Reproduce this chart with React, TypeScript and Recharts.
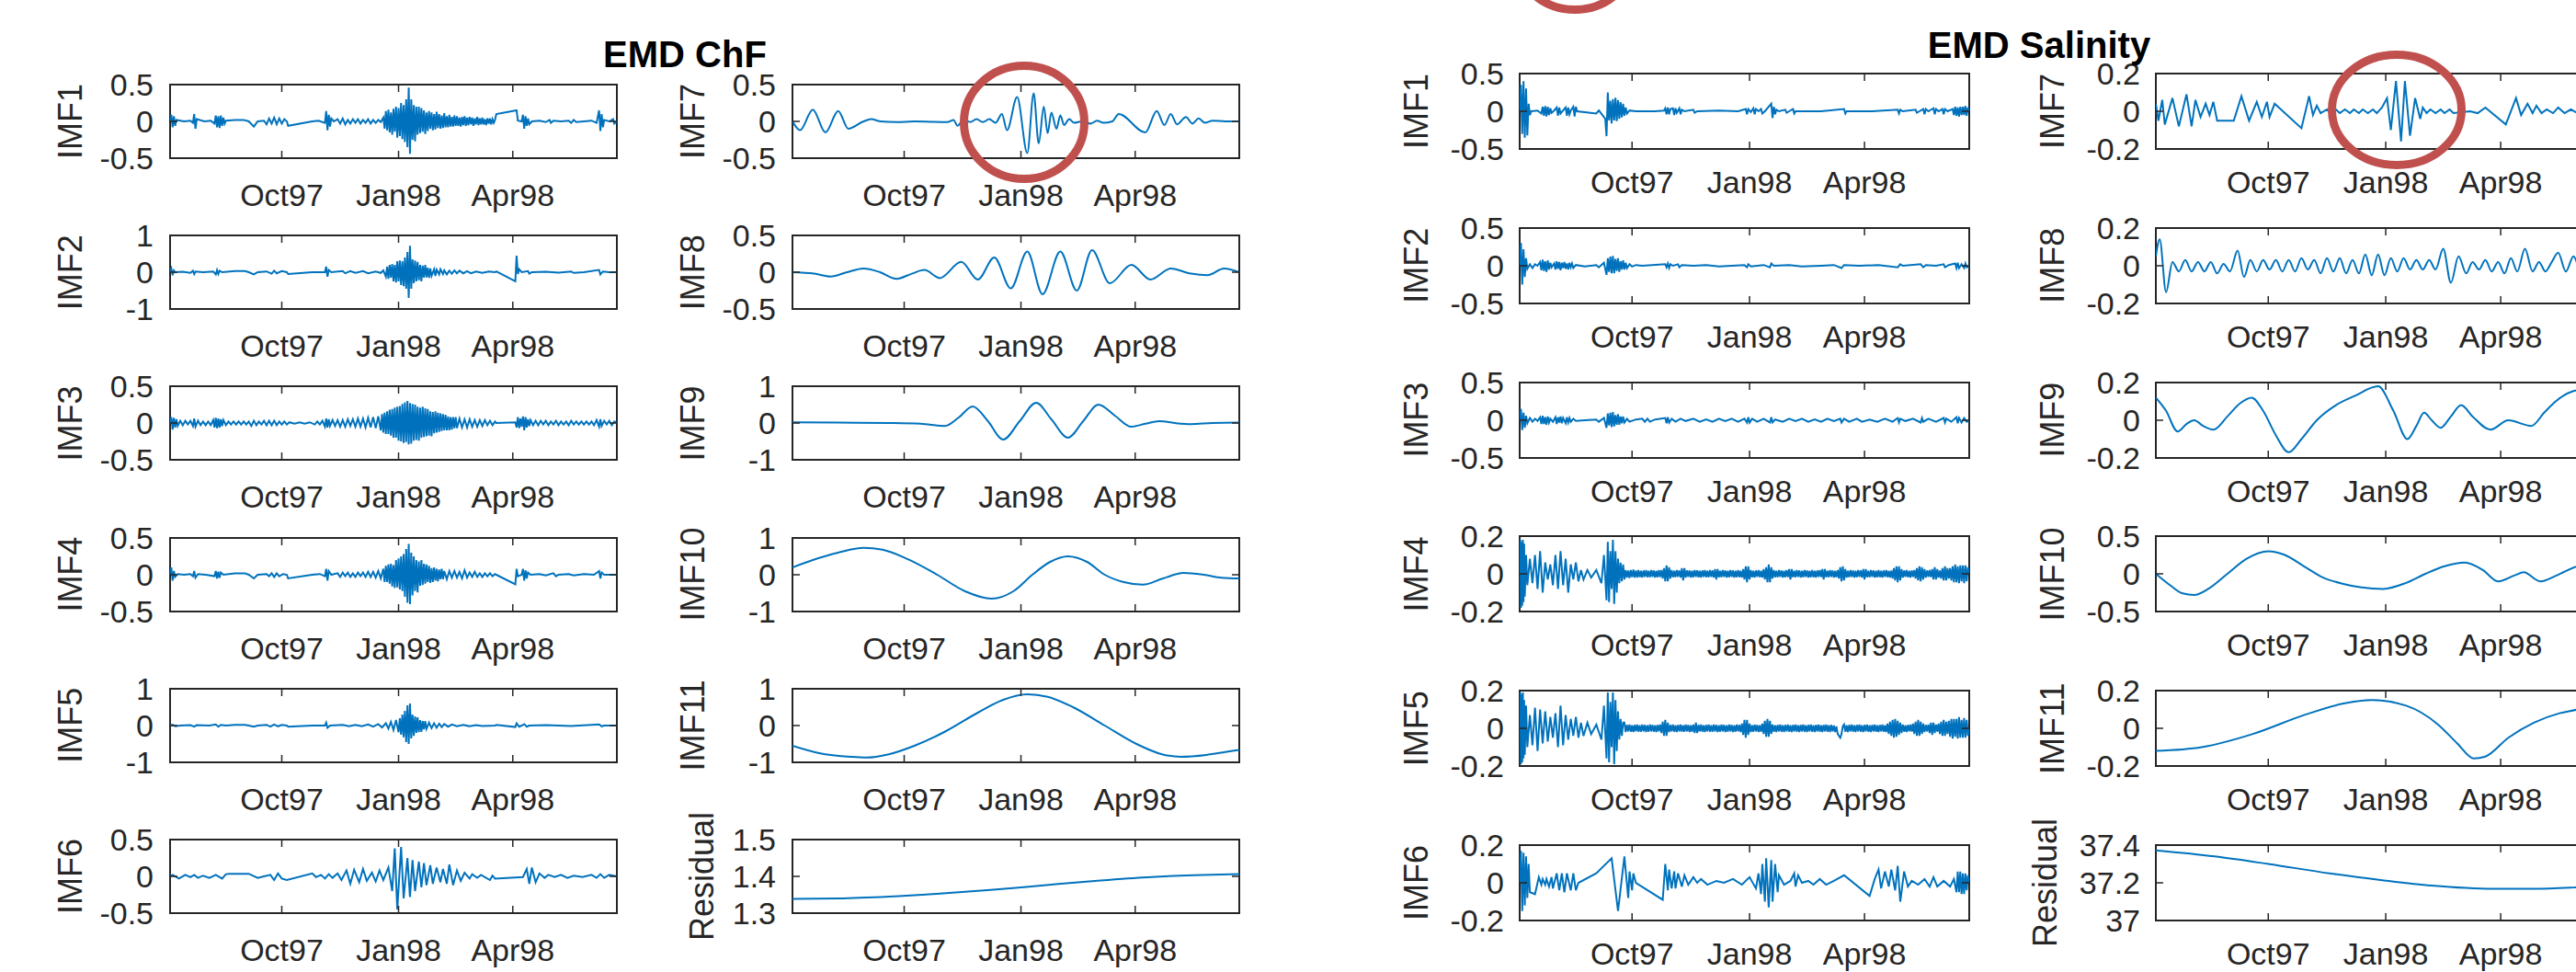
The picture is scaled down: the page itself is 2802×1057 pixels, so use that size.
import React from 'react';
import { LineChart, Line, XAxis, YAxis, ReferenceArea } from 'recharts';

type Pt = [number, number];

// x is days since 1 Jul 1997
const X_DOMAIN: [number, number] = [4, 356];
const TICK_DAYS = [92, 184, 274];
const TICK_LABELS = ['Oct97', 'Jan98', 'Apr98'];

const TICKS_05 = [-0.5, 0, 0.5];
const TICKS_1 = [-1, 0, 1];
const TICKS_02 = [-0.2, 0, 0.2];
const CHF_RES_TICKS = [1.3, 1.4, 1.5];
const SAL_RES_TICKS = [37, 37.2, 37.4];

const CHF_LABELS = ['IMF1', 'IMF2', 'IMF3', 'IMF4', 'IMF5', 'IMF6', 'IMF7', 'IMF8', 'IMF9', 'IMF10', 'IMF11', 'Residual'];
const SAL_LABELS = CHF_LABELS;

// ---------- EMD ChF ----------
const chfImf1: Pt[] = [[4,0],[5,0.09],[6,-0.08],[7,0.07],[8,-0.06],[9,0.02],[15,0],[20,0.01],[22,-0.02],[23,0.1],[24,-0.1],[25,0.03],[31,0],[36,0.01],[39,-0.03],[40,0.08],[41,-0.08],[42,0.07],[43,-0.09],[44,0.08],[45,-0.06],[46,0.05],[47,-0.03],[48,0.01],[55,0.02],[62,0.02],[66,0],[70,-0.07],[73,0],[78,0.01],[80,-0.04],[82,0.04],[84,-0.03],[86,0.05],[88,-0.04],[90,0.04],[92,-0.03],[94,0.03],[96,0],[97,-0.06],[116,0],[121,0.01],[126,-0.02],[127,0.14],[128,-0.12],[129,0.09],[130,-0.07],[131,0.04],[133,0],[136,0.03],[138,-0.03],[140,0.04],[142,-0.04],[144,0.02],[146,-0.03],[148,0.03],[150,-0.02],[152,0.03],[154,-0.03],[156,0.02],[158,-0.02],[160,0.03],[162,-0.03],[164,0.02],[166,-0.02],[168,0.02],[170,-0.01],[172,0.05],[173,-0.1],[174,0.14],[175,-0.12],[176,0.16],[177,-0.15],[178,0.12],[179,-0.18],[180,0.17],[181,-0.14],[182,0.2],[183,-0.22],[184,0.18],[185,-0.2],[186,0.25],[187,-0.24],[188,0.22],[189,-0.28],[190,0.3],[191,-0.35],[192,0.46],[193,-0.44],[194,0.3],[195,-0.25],[196,0.22],[197,-0.27],[198,0.2],[199,-0.18],[200,0.2],[201,-0.16],[202,0.18],[203,-0.14],[204,0.15],[205,-0.17],[206,0.12],[207,-0.13],[208,0.14],[209,-0.1],[210,0.12],[211,-0.12],[212,0.1],[213,-0.11],[214,0.13],[215,-0.09],[216,0.1],[217,-0.1],[218,0.08],[219,-0.09],[220,0.11],[221,-0.08],[222,0.07],[223,-0.08],[224,0.09],[225,-0.07],[226,0.06],[227,-0.07],[228,0.08],[229,-0.06],[230,0.07],[231,-0.06],[232,0.05],[233,-0.07],[234,0.06],[235,-0.05],[236,0.07],[237,-0.06],[238,0.05],[239,-0.05],[240,0.06],[241,-0.04],[242,0.05],[243,-0.06],[244,0.04],[245,-0.04],[246,0.06],[247,-0.05],[248,0.04],[249,-0.04],[250,0.05],[251,-0.04],[252,0.03],[253,-0.05],[254,0.04],[255,-0.03],[256,0.04],[257,-0.04],[258,0.03],[259,-0.02],[260,0.02],[261,0.1],[277,0.15],[278,0.01],[281,0],[282,0.09],[283,-0.1],[284,0.07],[285,-0.06],[286,0.04],[287,-0.04],[289,0],[295,0.01],[300,-0.01],[303,0.02],[304,-0.02],[306,0.01],[312,0],[318,0.01],[320,-0.02],[322,0.02],[324,-0.01],[330,0],[336,0.01],[340,-0.02],[342,0.15],[343,-0.13],[344,0.1],[345,-0.08],[346,0.02],[350,0],[353,0.03],[354,-0.03],[356,0]];

const chfImf2: Pt[] = [[4,0],[5,0.1],[6,-0.08],[7,0.05],[8,0],[14,0.01],[20,-0.02],[22,0.04],[23,-0.05],[24,0.02],[30,0],[38,0.02],[40,-0.06],[41,0.06],[42,-0.05],[43,0.04],[45,0],[55,0.03],[63,0.03],[66,0],[70,-0.06],[73,0],[80,0.02],[84,-0.04],[86,0.04],[88,-0.03],[92,0.03],[96,0],[97,-0.05],[116,0],[126,0],[127,0.15],[128,-0.12],[129,0.06],[131,0],[140,0.03],[142,-0.03],[146,0.03],[150,-0.02],[156,0.03],[160,-0.03],[166,0.02],[170,-0.02],[172,0.05],[174,-0.12],[175,0.15],[176,-0.18],[177,0.2],[178,-0.15],[179,0.22],[180,-0.25],[181,0.2],[182,-0.28],[183,0.3],[184,-0.25],[185,0.32],[186,-0.35],[187,0.3],[188,-0.38],[189,0.4],[190,-0.45],[191,0.55],[192,-0.7],[193,0.72],[194,-0.45],[195,0.35],[196,-0.3],[197,0.32],[198,-0.25],[199,0.28],[200,-0.22],[201,0.2],[202,-0.25],[203,0.18],[204,-0.15],[205,0.2],[206,-0.14],[207,0.12],[208,-0.15],[209,0.1],[210,-0.1],[212,0.08],[213,-0.1],[214,0.07],[216,-0.06],[217,0.08],[219,-0.05],[220,0.05],[222,-0.06],[224,0.04],[226,-0.04],[228,0.05],[230,-0.03],[232,0.04],[235,-0.03],[238,0.03],[241,-0.03],[245,0.02],[250,-0.02],[255,0.02],[260,0],[261,0.02],[276,-0.25],[277,0.45],[278,-0.05],[279,0.08],[281,0],[286,0.03],[287,-0.04],[289,0],[300,0.01],[310,-0.01],[320,0.02],[322,-0.02],[330,0],[342,0.06],[343,-0.06],[345,0.02],[350,0],[356,0]];

const chfImf3: Pt[] = [[4,0],[5,0.08],[6,-0.09],[7,0.07],[8,-0.06],[9,0.05],[10,-0.04],[12,0.03],[14,-0.03],[16,0.03],[18,-0.02],[20,0.03],[22,-0.04],[23,0.06],[24,-0.05],[26,0.03],[28,-0.03],[30,0.02],[32,-0.03],[34,0.02],[36,-0.03],[38,0.04],[39,-0.06],[40,0.07],[41,-0.07],[42,0.06],[43,-0.06],[44,0.05],[45,-0.04],[46,0.04],[48,-0.03],[50,0.02],[52,-0.02],[54,0.02],[56,-0.02],[58,0.02],[60,-0.02],[62,0.02],[64,-0.02],[66,0.02],[68,-0.04],[70,0.03],[72,-0.03],[74,0.02],[76,-0.02],[78,0.03],[80,-0.03],[82,0.03],[84,-0.03],[86,0.03],[88,-0.03],[90,0.02],[92,-0.02],[94,0.02],[96,-0.02],[98,0.01],[102,-0.01],[106,0.01],[110,-0.01],[114,0.01],[118,-0.02],[120,0.02],[122,-0.02],[124,0.03],[126,-0.05],[127,0.06],[128,-0.06],[129,0.05],[130,-0.04],[132,0.04],[134,-0.04],[136,0.04],[138,-0.05],[140,0.04],[142,-0.05],[144,0.05],[146,-0.04],[148,0.05],[150,-0.05],[152,0.06],[154,-0.05],[156,0.06],[158,-0.06],[160,0.07],[162,-0.06],[164,0.08],[166,-0.07],[168,0.09],[170,-0.1],[171,0.12],[172,-0.13],[173,0.14],[174,-0.15],[175,0.16],[176,-0.15],[177,0.18],[178,-0.17],[179,0.19],[180,-0.2],[181,0.21],[182,-0.2],[183,0.22],[184,-0.24],[185,0.23],[186,-0.25],[187,0.26],[188,-0.27],[189,0.28],[190,-0.26],[191,0.3],[192,-0.29],[193,0.27],[194,-0.28],[195,0.26],[196,-0.24],[197,0.25],[198,-0.23],[199,0.22],[200,-0.24],[201,0.21],[202,-0.2],[203,0.22],[204,-0.19],[205,0.2],[206,-0.18],[207,0.19],[208,-0.17],[209,0.16],[210,-0.18],[211,0.15],[212,-0.14],[213,0.16],[214,-0.13],[215,0.14],[216,-0.12],[217,0.13],[218,-0.11],[219,0.12],[220,-0.1],[221,0.11],[222,-0.1],[223,0.09],[224,-0.1],[225,0.08],[226,-0.09],[227,0.08],[228,-0.07],[229,0.08],[230,-0.07],[232,0.06],[234,-0.06],[236,0.05],[238,-0.06],[240,0.05],[242,-0.05],[244,0.04],[246,-0.05],[248,0.04],[250,-0.04],[252,0.04],[254,-0.03],[256,0.03],[258,-0.03],[260,0.02],[261,0],[276,0.01],[277,-0.06],[278,0.08],[279,-0.07],[280,0.06],[281,-0.05],[282,0.09],[283,-0.1],[284,0.08],[285,-0.06],[286,0.05],[287,-0.04],[288,0.04],[290,-0.03],[292,0.03],[294,-0.03],[296,0.03],[298,-0.02],[300,0.03],[302,-0.03],[304,0.02],[306,-0.02],[308,0.03],[310,-0.03],[312,0.02],[314,-0.02],[316,0.02],[318,-0.03],[320,0.03],[322,-0.02],[324,0.02],[326,-0.02],[328,0.02],[330,-0.02],[332,0.02],[334,-0.02],[336,0.02],[338,-0.03],[340,0.04],[342,-0.05],[343,0.05],[344,-0.04],[346,0.03],[348,-0.02],[350,0.03],[352,-0.03],[354,0.02],[356,0]];

const chfImf4: Pt[] = [[4,0],[5,0.1],[6,-0.08],[7,0.05],[8,-0.03],[10,0.01],[15,0],[20,0.01],[22,-0.02],[23,0.05],[24,-0.04],[26,0.01],[32,0],[39,-0.02],[40,0.05],[41,-0.05],[42,0.04],[43,-0.04],[44,0.03],[46,0],[55,0.02],[63,0.02],[66,0],[70,-0.05],[73,0],[80,0.01],[82,-0.02],[84,0.02],[86,-0.03],[88,0.02],[90,-0.02],[93,0.01],[96,0],[97,-0.05],[116,0],[122,0.01],[126,-0.02],[127,0.08],[128,-0.08],[129,0.05],[131,0],[136,0.02],[138,-0.03],[140,0.03],[142,-0.02],[144,0.03],[146,-0.03],[148,0.02],[150,-0.03],[152,0.03],[154,-0.02],[156,0.03],[158,-0.03],[160,0.04],[162,-0.03],[164,0.04],[166,-0.04],[168,0.05],[170,-0.05],[172,0.08],[173,-0.1],[174,0.12],[175,-0.1],[176,0.14],[177,-0.12],[178,0.15],[179,-0.16],[180,0.13],[181,-0.18],[182,0.2],[183,-0.17],[184,0.22],[185,-0.2],[186,0.25],[187,-0.22],[188,0.28],[189,-0.3],[190,0.35],[191,-0.38],[192,0.42],[193,-0.4],[194,0.3],[195,-0.28],[196,0.25],[197,-0.22],[198,0.2],[199,-0.24],[200,0.18],[201,-0.15],[202,0.2],[203,-0.14],[204,0.15],[205,-0.12],[206,0.14],[207,-0.1],[208,0.12],[209,-0.11],[210,0.09],[211,-0.1],[212,0.1],[213,-0.08],[214,0.08],[215,-0.09],[216,0.07],[217,-0.06],[218,0.08],[219,-0.06],[220,0.05],[222,-0.06],[224,0.05],[226,-0.04],[228,0.05],[230,-0.04],[232,0.04],[234,-0.05],[236,0.06],[238,-0.04],[240,0.03],[242,-0.03],[244,0.04],[246,-0.03],[248,0.02],[250,-0.03],[252,0.02],[254,-0.02],[256,0.02],[258,-0.02],[260,0.01],[261,0],[276,-0.13],[277,0.08],[278,-0.02],[281,0],[282,0.08],[283,-0.08],[284,0.06],[285,-0.05],[286,0.03],[288,0],[295,0.01],[300,-0.01],[306,0.02],[308,-0.02],[310,0],[318,0.01],[322,-0.01],[330,0.01],[338,0],[342,0.05],[343,-0.05],[344,0.03],[346,0],[356,0]];

const chfImf5: Pt[] = [[4,0],[6,0.02],[8,-0.02],[12,0],[20,0.01],[23,-0.03],[25,0.01],[35,0],[40,0.03],[42,-0.03],[44,0.02],[48,0],[55,0.02],[63,0.02],[66,0],[70,-0.03],[73,0],[80,0.02],[83,-0.03],[86,0.03],[89,-0.02],[92,0.02],[96,0],[97,-0.03],[116,0],[126,0],[127,0.08],[128,-0.06],[130,0],[140,0.02],[145,-0.02],[150,0.02],[155,-0.02],[160,0.03],[164,-0.03],[168,0.04],[171,-0.05],[174,0.06],[176,-0.08],[178,0.1],[180,-0.12],[182,0.15],[184,-0.18],[185,0.2],[186,-0.25],[187,0.3],[188,-0.32],[189,0.4],[190,-0.45],[191,0.55],[192,-0.5],[193,0.6],[194,-0.35],[195,0.3],[196,-0.28],[197,0.25],[198,-0.2],[199,0.22],[200,-0.18],[201,0.15],[202,-0.17],[203,0.12],[204,-0.1],[205,0.12],[206,-0.09],[208,0.08],[210,-0.07],[212,0.06],[214,-0.06],[216,0.05],[218,-0.04],[220,0.04],[223,-0.03],[226,0.03],[230,-0.02],[235,0.02],[240,-0.02],[245,0.01],[250,-0.01],[260,0],[261,0.02],[276,-0.04],[277,0.06],[279,-0.03],[281,0],[283,0.04],[285,-0.03],[287,0],[300,0.01],[320,-0.01],[342,0.03],[344,-0.02],[346,0],[356,0]];

const chfImf6: Pt[] = [[4,0],[6,0.02],[11,-0.03],[16,0.02],[20,-0.01],[23,0.02],[26,-0.02],[30,0.01],[35,-0.02],[40,0.02],[45,-0.03],[48,0.03],[51,0.035],[66,0.035],[69,0.01],[73,-0.02],[78,0],[83,0.02],[86,-0.05],[89,0.04],[92,-0.03],[96,-0.05],[116,0.04],[119,-0.01],[123,0.02],[126,-0.03],[129,0.03],[132,-0.02],[136,0.04],[139,-0.05],[143,0.08],[146,-0.1],[149,0.09],[153,-0.08],[156,0.1],[159,-0.06],[163,0.05],[166,-0.07],[169,0.08],[172,-0.05],[176,0.12],[179,-0.2],[181,0.38],[183,-0.45],[186,0.4],[188,-0.3],[191,0.25],[193,-0.28],[195,0.22],[197,-0.2],[200,0.2],[202,-0.15],[204,0.18],[206,-0.12],[209,0.15],[211,-0.1],[214,0.12],[217,-0.08],[219,0.1],[222,-0.1],[224,0.16],[227,-0.12],[230,0.08],[233,-0.06],[236,0.05],[240,-0.03],[242,0.03],[246,-0.02],[249,0.02],[252,-0.01],[256,-0.05],[258,0.01],[260,-0.03],[282,-0.01],[285,0.1],[287,-0.1],[289,0.12],[292,-0.08],[295,0.04],[299,-0.02],[302,0.02],[307,-0.01],[312,0.02],[317,-0.02],[322,0.01],[329,-0.01],[336,0.02],[340,-0.02],[343,0.03],[346,-0.02],[350,0.02],[356,0]];

const chfImf7: Pt[] = [[4,0],[10,-0.12],[20,0.16],[30,-0.15],[40,0.14],[48,-0.1],[60,0],[66,0.03],[73,0],[86,-0.01],[100,0],[126,-0.01],[131,0.02],[134,-0.06],[139,0.03],[144,-0.01],[149,0.03],[154,-0.01],[159,0.03],[164,-0.02],[169,0.1],[173,-0.12],[181,0.33],[189,-0.43],[194,0.38],[198,-0.3],[202,0.2],[205,-0.16],[208,0.12],[212,-0.1],[215,0.08],[218,-0.05],[222,0.03],[226,-0.02],[232,0],[239,-0.03],[244,0.01],[249,-0.02],[256,0],[261,0.1],[282,-0.15],[291,0.14],[297,-0.05],[302,0.1],[307,-0.04],[314,0.06],[319,-0.03],[324,0.04],[329,-0.02],[335,0.01],[345,0],[356,0]];

const chfImf8: Pt[] = [[4,0],[21,-0.02],[34,-0.06],[47,0],[60,0.05],[73,0],[86,-0.09],[98,-0.02],[108,0.03],[120,-0.08],[137,0.14],[150,-0.1],[163,0.2],[176,-0.22],[189,0.28],[201,-0.3],[215,0.28],[228,-0.25],[240,0.3],[254,-0.15],[271,0.1],[286,-0.1],[302,0.05],[318,-0.02],[331,-0.04],[344,0.05],[356,0]];

const chfImf9: Pt[] = [[4,0.02],[40,0.01],[80,0],[105,-0.02],[124,-0.08],[135,0.15],[146,0.45],[158,0.05],[170,-0.45],[183,0.05],[196,0.55],[208,0.1],[221,-0.4],[233,0.05],[245,0.5],[258,0.2],[271,-0.1],[282,-0.02],[293,0.05],[305,0],[318,-0.03],[335,0],[356,0.01]];

const chfImf10: Pt[] = [[4,0.2],[20,0.4],[40,0.6],[60,0.73],[75,0.68],[95,0.42],[118,0],[140,-0.45],[161,-0.65],[178,-0.45],[193,0],[207,0.35],[221,0.5],[236,0.35],[250,0],[265,-0.2],[280,-0.27],[296,-0.1],[312,0.05],[328,0],[342,-0.08],[356,-0.1]];

const chfImf11: Pt[] = [[4,-0.55],[25,-0.75],[50,-0.85],[62,-0.87],[80,-0.78],[100,-0.55],[125,-0.15],[150,0.35],[170,0.7],[189,0.85],[205,0.78],[225,0.5],[250,0],[275,-0.5],[295,-0.78],[310,-0.85],[330,-0.8],[345,-0.72],[356,-0.66]];

const chfResidual: Pt[] = [[4,1.339],[40,1.34],[80,1.345],[120,1.353],[160,1.363],[200,1.375],[240,1.387],[280,1.397],[320,1.403],[356,1.406]];

// ---------- EMD Salinity ----------
const salImf1: Pt[] = [[4,0],[5,0.35],[6,-0.3],[7,0.4],[8,-0.35],[9,0.3],[10,-0.32],[11,0.1],[12,-0.05],[13,0],[18,0.01],[21,-0.03],[22,0.06],[23,-0.06],[24,0.07],[25,-0.07],[26,0.06],[27,-0.05],[28,0.04],[29,-0.02],[31,0.01],[33,0.05],[34,-0.06],[35,0.05],[36,-0.03],[38,0.01],[40,0.05],[41,-0.06],[42,0.05],[43,-0.04],[44,0.01],[46,0.06],[47,-0.07],[48,0.06],[49,0],[64,-0.03],[66,0.01],[71,-0.1],[72,-0.33],[73,0.25],[74,-0.12],[75,0.14],[76,-0.16],[77,0.16],[78,-0.12],[79,0.18],[80,-0.13],[81,0.15],[82,-0.1],[83,0.12],[84,-0.08],[85,0.1],[86,-0.06],[87,0.05],[88,-0.03],[90,0.01],[95,0],[110,0],[117,0.01],[118,0.04],[119,-0.04],[120,0.05],[121,-0.04],[122,0.03],[124,0.04],[125,-0.05],[126,0.04],[127,-0.02],[129,0.04],[130,-0.04],[131,0.02],[133,0],[140,0.02],[141,-0.02],[143,0],[160,0.01],[175,0],[181,0.03],[182,-0.04],[183,0.03],[185,-0.01],[187,0.04],[188,-0.04],[189,0.03],[191,0],[193,0.03],[194,-0.03],[196,0],[201,0.1],[202,-0.09],[203,0.06],[204,-0.04],[205,0.02],[207,0],[212,0.02],[213,-0.02],[215,0],[218,0.03],[219,-0.03],[220,0],[240,0],[258,0.03],[259,-0.03],[260,0],[280,0],[300,0.02],[301,-0.03],[302,0.02],[304,0],[314,0.02],[315,-0.02],[317,0],[320,0.03],[321,-0.04],[322,0.03],[324,0],[328,0.04],[329,-0.04],[330,0.03],[332,0],[335,0.03],[336,-0.04],[337,0.03],[339,0],[343,0.03],[344,-0.05],[345,0.06],[346,-0.06],[347,0.05],[348,-0.07],[349,0.06],[350,-0.05],[351,0.06],[352,-0.05],[353,0.07],[354,-0.06],[355,0.05],[356,0]];

const salImf2: Pt[] = [[4,0],[5,0.3],[6,-0.25],[7,0.22],[8,-0.15],[9,0.1],[10,-0.04],[12,0.02],[14,-0.03],[16,0.02],[18,0],[20,0.05],[21,-0.06],[22,0.08],[23,-0.07],[24,0.06],[25,-0.08],[26,0.07],[27,-0.05],[28,0.04],[29,-0.02],[31,0.03],[32,-0.05],[33,0.06],[34,-0.04],[35,0.05],[36,-0.06],[37,0.04],[38,-0.03],[39,0.05],[40,-0.04],[41,0.03],[42,-0.05],[43,0.04],[44,-0.02],[45,0.03],[46,-0.03],[48,0.01],[55,-0.01],[64,0.01],[66,-0.02],[70,0.04],[72,-0.12],[73,0.1],[74,-0.08],[75,0.12],[76,-0.1],[77,0.13],[78,-0.1],[79,0.09],[80,-0.07],[81,0.1],[82,-0.08],[83,0.06],[84,-0.05],[85,0.07],[86,-0.05],[87,0.04],[88,-0.03],[90,0.02],[92,-0.01],[95,0.01],[100,0],[118,0.02],[119,-0.02],[120,0.03],[121,-0.03],[122,0.02],[124,0],[128,0.02],[129,-0.02],[131,0.01],[140,0],[150,0.01],[160,-0.01],[170,0],[180,0.01],[182,-0.02],[183,0.02],[185,-0.01],[195,0.01],[200,-0.02],[201,0.03],[203,0],[215,0.01],[225,-0.01],[240,0],[250,0.01],[256,-0.03],[258,0.01],[270,0],[285,0.01],[300,-0.02],[302,0.02],[304,0],[318,0.02],[320,-0.02],[322,0.01],[330,0],[336,0.02],[337,-0.02],[340,0.01],[345,0.03],[346,-0.03],[347,0.04],[348,-0.03],[350,0.02],[352,-0.03],[353,0.03],[354,-0.02],[356,0]];

const salImf3: Pt[] = [[4,0],[5,0.15],[6,-0.13],[7,0.1],[8,-0.1],[9,0.06],[10,-0.04],[12,0.03],[14,-0.02],[16,0.02],[18,-0.01],[20,0.04],[21,-0.05],[22,0.06],[23,-0.05],[24,0.04],[25,-0.06],[26,0.05],[27,-0.03],[28,0.02],[30,-0.02],[32,0.04],[33,-0.05],[34,0.04],[35,-0.03],[36,0.05],[37,-0.04],[38,0.03],[40,-0.04],[41,0.04],[42,-0.03],[43,0.03],[44,-0.02],[46,0.02],[48,-0.01],[55,0],[64,0.01],[66,-0.02],[70,0.03],[72,-0.1],[73,0.09],[74,-0.07],[75,0.1],[76,-0.09],[77,0.11],[78,-0.08],[79,0.07],[80,-0.06],[81,0.08],[82,-0.06],[83,0.05],[84,-0.04],[85,0.05],[86,-0.03],[88,0.02],[90,-0.02],[95,0.01],[100,0.02],[102,-0.02],[104,0.02],[106,-0.02],[110,0.01],[118,0.03],[119,-0.04],[120,0.04],[121,-0.03],[123,0.02],[126,-0.02],[130,0.02],[134,-0.01],[140,0.02],[145,-0.02],[150,0.01],[155,-0.02],[160,0.02],[165,-0.01],[170,0.02],[175,-0.02],[180,0.02],[182,-0.03],[183,0.04],[184,-0.03],[186,0.02],[190,-0.02],[195,0.02],[200,-0.03],[201,0.04],[202,-0.03],[204,0.01],[210,-0.02],[215,0.02],[220,-0.01],[225,0.02],[230,-0.02],[235,0.01],[240,-0.02],[245,0.02],[250,-0.01],[255,0.02],[256,-0.03],[258,0.02],[262,-0.02],[268,0.02],[272,-0.02],[278,0.01],[284,-0.02],[290,0.02],[296,-0.02],[300,0.03],[301,-0.03],[302,0.02],[306,-0.01],[312,0.02],[318,-0.03],[319,0.03],[320,-0.02],[324,0.02],[330,-0.02],[336,0.03],[337,-0.03],[338,0.02],[342,-0.02],[346,0.04],[347,-0.04],[348,0.03],[350,-0.03],[352,0.03],[354,-0.02],[356,0]];

const salImf4: Pt[] = [[4,0],[4.5,0.18],[5,-0.18],[5.5,0.17],[6,-0.17],[6.5,0.18],[7,-0.15],[7.5,0.16],[8,-0.12],[9,0.1],[10,-0.06],[12,0.08],[14,-0.05],[16,0.1],[18,-0.08],[20,0.12],[22,-0.1],[24,0.06],[26,-0.03],[28,0.05],[30,-0.06],[32,0.1],[34,-0.08],[36,0.12],[38,-0.06],[40,0.08],[42,-0.1],[44,0.05],[46,-0.03],[48,0.06],[50,-0.04],[52,0.02],[54,-0.03],[57,0.02],[60,-0.02],[64,0.02],[68,-0.05],[70,0.1],[72,-0.14],[73,0.17],[74,-0.15],[75,0.12],[76,-0.08],[77,0.18],[78,-0.16],[79,0.12],[80,-0.1],[81,0.08],[82,-0.05],[83,0.06],[84,-0.04],[85,0.05],[86,-0.03],
[87,0.02],[88,-0.02],[89,0.018],[90,-0.022],[91,0.02],[92,-0.018],[93,0.022],[94,-0.02],[95,0.018],[96,-0.02],[97,0.02],[98,-0.018],[99,0.016],[100,-0.02],[101,0.018],[102,-0.016],[103,0.02],[104,-0.018],[105,0.016],[106,-0.018],[107,0.02],[108,-0.016],[109,0.018],[110,-0.02],[111,0.016],[112,-0.018],[113,0.02],[114,-0.018],[115,0.02],[116,-0.025],[117,0.03],[118,-0.04],[119,0.045],[120,-0.04],[121,0.035],[122,-0.025],[123,0.02],[124,-0.018],[125,0.016],[126,-0.018],[127,0.02],[128,-0.016],[129,0.018],[130,-0.02],[131,0.03],[132,-0.035],[133,0.03],[134,-0.02],[135,0.018],[136,-0.016],[137,0.018],[138,-0.02],[139,0.016],[140,-0.018],[141,0.02],[142,-0.016],[143,0.018],[144,-0.018],[145,0.016],[146,-0.02],[147,0.018],[148,-0.016],[149,0.02],[150,-0.018],[151,0.016],[152,-0.018],[153,0.02],[154,-0.016],[155,0.018],[156,-0.02],[157,0.025],[158,-0.03],[159,0.025],[160,-0.018],[161,0.016],[162,-0.018],[163,0.02],[164,-0.016],[165,0.018],[166,-0.02],[167,0.016],[168,-0.018],[169,0.02],[170,-0.016],[171,0.018],[172,-0.02],[173,0.016],[174,-0.018],[175,0.02],[176,-0.018],[177,0.016],[178,-0.02],[179,0.025],[180,-0.03],[181,0.04],[182,-0.045],[183,0.04],[184,-0.03],[185,0.02],[186,-0.018],[187,0.016],[188,-0.02],[189,0.018],[190,-0.016],[191,0.02],[192,-0.018],[193,0.016],[194,-0.02],[195,0.025],[196,-0.03],[197,0.035],[198,-0.045],[199,0.05],[200,-0.045],[201,0.035],[202,-0.025],[203,0.02],[204,-0.018],[205,0.016],[206,-0.018],[207,0.02],[208,-0.016],[209,0.018],[210,-0.02],[211,0.016],[212,-0.018],[213,0.02],[214,-0.018],[215,0.025],[216,-0.03],[217,0.025],[218,-0.018],[219,0.016],[220,-0.018],[221,0.02],[222,-0.016],[223,0.018],[224,-0.02],[225,0.016],[226,-0.018],[227,0.02],[228,-0.016],[229,0.018],[230,-0.02],[231,0.016],[232,-0.018],[233,0.02],[234,-0.018],[235,0.016],[236,-0.02],[237,0.018],[238,-0.016],[239,0.02],[240,-0.018],[241,0.025],[242,-0.03],[243,0.025],[244,-0.018],[245,0.016],[246,-0.018],[247,0.02],[248,-0.016],[249,0.018],[250,-0.02],[251,0.016],[252,-0.018],[253,0.02],[254,-0.025],[255,0.035],[256,-0.04],[257,0.04],[258,-0.035],[259,0.025],[260,-0.02],[261,0.016],[262,-0.018],[263,0.02],[264,-0.016],[265,0.018],[266,-0.02],[267,0.016],[268,-0.018],[269,0.02],[270,-0.016],[271,0.018],[272,-0.02],[273,0.025],[274,-0.03],[275,0.025],[276,-0.018],[277,0.016],[278,-0.018],[279,0.02],[280,-0.016],[281,0.018],[282,-0.02],[283,0.016],[284,-0.018],[285,0.02],[286,-0.018],[287,0.016],[288,-0.02],[289,0.018],[290,-0.016],[291,0.02],[292,-0.018],[293,0.016],[294,-0.02],[295,0.018],[296,-0.025],[297,0.03],[298,-0.035],[299,0.04],[300,-0.045],[301,0.04],[302,-0.035],[303,0.025],[304,-0.02],[305,0.018],[306,-0.016],[307,0.02],[308,-0.018],[309,0.016],[310,-0.02],[311,0.018],[312,-0.016],[313,0.02],[314,-0.025],[315,0.03],[316,-0.035],[317,0.04],[318,-0.04],[319,0.035],[320,-0.03],[321,0.025],[322,-0.02],[323,0.018],[324,-0.016],[325,0.02],[326,-0.018],[327,0.025],[328,-0.03],[329,0.035],[330,-0.03],[331,0.025],[332,-0.02],[333,0.018],[334,-0.025],[335,0.03],[336,-0.035],[337,0.04],[338,-0.035],[339,0.03],[340,-0.025],[341,0.03],[342,-0.035],[343,0.04],[344,-0.045],[345,0.05],[346,-0.045],[347,0.04],[348,-0.05],[349,0.045],[350,-0.04],[351,0.045],[352,-0.05],[353,0.045],[354,-0.04],[355,0.035],[356,0]];

const salImf5: Pt[] = [[4,0],[4.5,0.19],[5,-0.19],[5.5,0.18],[6,-0.18],[6.5,0.19],[7,-0.16],[7.5,0.15],[8,-0.14],[9,0.12],[10,-0.1],[12,0.07],[14,-0.09],[16,0.11],[18,-0.12],[20,0.1],[22,-0.08],[24,0.09],[26,-0.07],[28,0.06],[30,-0.05],[32,0.08],[34,-0.1],[36,0.12],[38,-0.09],[40,0.07],[42,-0.06],[44,0.05],[46,-0.04],[48,0.06],[50,-0.05],[52,0.03],[54,-0.04],[57,0.03],[60,-0.03],[64,0.02],[68,-0.06],[70,0.12],[72,-0.16],[73,0.19],[74,-0.18],[75,0.14],[76,-0.1],[77,0.19],[78,-0.19],[79,0.15],[80,-0.12],[81,0.09],[82,-0.06],[83,0.05],[84,-0.04],[85,0.03],
[86,0.03],[87,-0.02],[88,0.018],[89,-0.016],[90,0.02],[91,-0.018],[92,0.016],[93,-0.02],[94,0.018],[95,-0.016],[96,0.02],[97,-0.018],[98,0.016],[99,-0.018],[100,0.02],[101,-0.016],[102,0.018],[103,-0.02],[104,0.016],[105,-0.018],[106,0.02],[107,-0.016],[108,0.018],[109,-0.018],[110,0.016],[111,-0.02],[112,0.018],[113,-0.016],[114,0.02],[115,-0.025],[116,0.035],[117,-0.04],[118,0.045],[119,-0.04],[120,0.03],[121,-0.02],[122,0.018],[123,-0.016],[124,0.02],[125,-0.018],[126,0.016],[127,-0.02],[128,0.018],[129,-0.016],[130,0.02],[131,-0.018],[132,0.016],[133,-0.018],[134,0.02],[135,-0.016],[136,0.018],[137,-0.02],[138,0.016],[139,-0.018],[140,0.02],[141,-0.025],[142,0.03],[143,-0.025],[144,0.018],[145,-0.016],[146,0.02],[147,-0.018],[148,0.016],[149,-0.02],[150,0.018],[151,-0.016],[152,0.02],[153,-0.018],[154,0.016],[155,-0.018],[156,0.02],[157,-0.016],[158,0.018],[159,-0.02],[160,0.016],[161,-0.018],[162,0.02],[163,-0.016],[164,0.018],[165,-0.02],[166,0.016],[167,-0.018],[168,0.02],[169,-0.016],[170,0.018],[171,-0.02],[172,0.016],[173,-0.018],[174,0.02],[175,-0.016],[176,0.018],[177,-0.02],[178,0.025],[179,-0.035],[180,0.045],[181,-0.05],[182,0.045],[183,-0.035],[184,0.025],[185,-0.02],[186,0.016],[187,-0.018],[188,0.02],[189,-0.016],[190,0.018],[191,-0.02],[192,0.016],[193,-0.018],[194,0.025],[195,-0.03],[196,0.04],[197,-0.045],[198,0.05],[199,-0.045],[200,0.04],[201,-0.03],[202,0.02],[203,-0.018],[204,0.016],[205,-0.02],[206,0.018],[207,-0.016],[208,0.02],[209,-0.018],[210,0.016],[211,-0.02],[212,0.018],[213,-0.016],[214,0.02],[215,-0.018],[216,0.016],[217,-0.02],[218,0.018],[219,-0.016],[220,0.02],[221,-0.018],[222,0.016],[223,-0.02],[224,0.018],[225,-0.016],[226,0.02],[227,-0.018],[228,0.016],[229,-0.02],[230,0.018],[231,-0.016],[232,0.02],[233,-0.018],[234,0.016],[235,-0.02],[236,0.018],[237,-0.016],[238,0.02],[239,-0.018],[240,0.016],[241,-0.02],[242,0.018],[243,-0.016],[244,0.02],[245,-0.018],[246,0.016],[247,-0.02],[248,0.018],[249,-0.016],[250,0.015],[251,-0.02],[252,0.01],[253,-0.03],[254,-0.04],[255,-0.05],[256,-0.03],[257,0.01],[258,0.02],[259,-0.018],[260,0.016],[261,-0.02],[262,0.018],[263,-0.016],[264,0.02],[265,-0.018],[266,0.016],[267,-0.02],[268,0.018],[269,-0.016],[270,0.02],[271,-0.018],[272,0.016],[273,-0.02],[274,0.018],[275,-0.016],[276,0.02],[277,-0.018],[278,0.016],[279,-0.02],[280,0.018],[281,-0.016],[282,0.02],[283,-0.018],[284,0.016],[285,-0.02],[286,0.018],[287,-0.016],[288,0.02],[289,-0.018],[290,0.016],[291,-0.02],[292,0.025],[293,-0.03],[294,0.035],[295,-0.04],[296,0.045],[297,-0.05],[298,0.05],[299,-0.045],[300,0.04],[301,-0.035],[302,0.03],[303,-0.025],[304,0.02],[305,-0.018],[306,0.016],[307,-0.02],[308,0.018],[309,-0.016],[310,0.02],[311,-0.018],[312,0.025],[313,-0.03],[314,0.035],[315,-0.04],[316,0.045],[317,-0.04],[318,0.035],[319,-0.03],[320,0.025],[321,-0.02],[322,0.018],[323,-0.016],[324,0.02],[325,-0.025],[326,0.03],[327,-0.035],[328,0.03],[329,-0.025],[330,0.02],[331,-0.018],[332,0.025],[333,-0.03],[334,0.035],[335,-0.04],[336,0.045],[337,-0.04],[338,0.035],[339,-0.03],[340,0.04],[341,-0.045],[342,0.05],[343,-0.055],[344,0.05],[345,-0.045],[346,0.05],[347,-0.055],[348,0.06],[349,-0.05],[350,0.045],[351,-0.05],[352,0.055],[353,-0.05],[354,0.045],[355,-0.04],[356,0]];

const salImf6: Pt[] = [[4,0],[5,0.17],[6,-0.15],[7,0.16],[8,-0.12],[9,0.14],[10,-0.08],[11,0.1],[12,-0.05],[16,-0.06],[19,0.03],[21,-0.01],[22,0.02],[24,-0.01],[25,0.02],[27,-0.02],[29,0.03],[30,-0.03],[33,0.05],[35,-0.04],[37,0.05],[39,-0.05],[41,0.05],[44,-0.04],[46,0.05],[48,-0.04],[50,0],[64,0.05],[76,0.13],[81,-0.15],[86,0.14],[89,-0.08],[90,0.06],[92,-0.04],[93,0.05],[95,0],[116,-0.09],[118,0.1],[120,-0.04],[121,0.07],[123,-0.03],[125,0.06],[126,-0.03],[128,0.05],[131,-0.02],[133,0.04],[136,-0.01],[140,0.03],[143,0],[146,0.02],[151,-0.01],[158,0.01],[164,0],[171,0.02],[178,-0.01],[184,0.03],[189,-0.03],[191,0.05],[193,-0.06],[194,0.1],[196,-0.1],[197,0.13],[199,-0.13],[201,0.12],[202,-0.1],[204,0.1],[206,-0.05],[207,0.04],[211,-0.01],[216,0.01],[219,0.05],[220,-0.02],[222,0.04],[225,0],[230,0.01],[234,-0.01],[239,0.02],[244,-0.01],[250,0.01],[258,0.04],[278,-0.07],[282,0.02],[285,0.07],[287,-0.03],[290,0.06],[293,-0.02],[295,0.07],[298,-0.04],[300,0.09],[302,-0.1],[305,0.06],[308,-0.02],[311,0.01],[316,-0.01],[321,0.02],[325,-0.02],[328,0.03],[331,-0.02],[336,0.01],[341,-0.02],[344,0.02],[346,-0.05],[347,0.06],[348,-0.05],[349,0.06],[350,-0.06],[351,0.05],[352,-0.06],[353,0.05],[354,-0.04],[355,0.04],[356,0]];

const salImf7: Pt[] = [[4,0.04],[6,-0.05],[9,0.06],[11,-0.07],[17,0.07],[22,-0.08],[28,0.09],[32,-0.08],[35,0.06],[39,-0.03],[43,0.04],[46,-0.02],[49,0.05],[52,-0.05],[65,-0.05],[71,0.08],[77,-0.05],[83,0.05],[87,-0.03],[91,0.05],[93,-0.03],[97,0.04],[118,-0.09],[124,0.08],[127,-0.02],[130,0.03],[133,-0.01],[138,0.01],[141,-0.01],[145,0.01],[148,-0.01],[152,0.01],[156,-0.01],[159,0.01],[163,-0.01],[166,0.01],[170,-0.01],[174,0.01],[177,-0.01],[181,0.02],[185,0.07],[188,-0.1],[192,0.16],[196,-0.16],[199,0.16],[203,-0.13],[207,0.07],[211,-0.04],[213,0.02],[216,-0.01],[219,0.01],[223,-0.01],[227,0.01],[230,-0.01],[234,0.01],[237,-0.01],[250,0],[256,-0.01],[262,0.02],[278,-0.07],[286,0.07],[290,-0.02],[295,0.04],[299,-0.01],[302,0.03],[306,-0.01],[310,0.01],[315,-0.01],[319,0.02],[324,-0.01],[329,0.01],[334,-0.01],[340,0.01],[346,-0.01],[351,0.01],[356,0]];

const salImf8: Pt[] = [[4,0.05],[7,0.14],[12,-0.14],[17,0.02],[22,-0.03],[27,0.03],[32,-0.03],[37,0.02],[42,-0.03],[47,0.02],[52,-0.04],[57,0.01],[62,-0.03],[68,0.08],[73,-0.06],[78,0.03],[83,-0.03],[88,0.03],[93,-0.02],[98,0.03],[103,-0.03],[108,0.03],[113,-0.03],[118,0.04],[123,-0.02],[128,0.03],[133,-0.04],[138,0.04],[143,-0.03],[148,0.04],[153,-0.04],[158,0.03],[163,-0.04],[168,0.06],[173,-0.05],[178,0.06],[183,-0.05],[188,0.04],[193,-0.03],[198,0.04],[203,-0.02],[208,0.03],[213,-0.02],[218,0.03],[223,-0.02],[229,0.09],[235,-0.09],[241,0.05],[247,-0.04],[252,0.02],[257,-0.02],[262,0.03],[267,-0.03],[272,0.02],[277,-0.04],[282,0.04],[287,-0.03],[293,0.09],[299,-0.03],[304,0.02],[309,-0.03],[314,0.02],[319,0.07],[325,-0.03],[331,0.05],[337,-0.03],[343,0.03],[349,-0.02],[356,0.01]];

const salImf9: Pt[] = [[4,0.12],[12,0.05],[21,-0.06],[28,-0.02],[34,0],[41,-0.03],[49,-0.05],[60,0.02],[70,0.09],[79,0.12],[88,0.05],[98,-0.08],[108,-0.17],[118,-0.1],[130,0],[145,0.08],[160,0.13],[178,0.18],[190,0.05],[201,-0.1],[208,-0.03],[214,0.04],[220,0],[227,-0.04],[235,0.02],[243,0.08],[252,0.02],[266,-0.05],[280,0],[298,-0.03],[308,0.04],[317,0.1],[334,0.16],[350,0.17],[356,0.16]];

const salImf10: Pt[] = [[4,0],[15,-0.15],[25,-0.26],[34,-0.28],[45,-0.2],[60,0],[75,0.2],[92,0.3],[105,0.25],[120,0.1],[135,-0.05],[150,-0.13],[165,-0.18],[182,-0.2],[200,-0.12],[215,0],[230,0.1],[246,0.15],[260,0.05],[272,-0.1],[285,-0.02],[292,0.02],[305,-0.1],[318,-0.02],[334,0.1],[356,0.15]];

const salImf11: Pt[] = [[4,-0.12],[40,-0.1],[80,-0.03],[120,0.07],[150,0.13],[173,0.15],[200,0.12],[225,0.02],[240,-0.08],[253,-0.16],[262,-0.15],[280,-0.05],[300,0.03],[320,0.08],[334,0.1],[356,0.15]];

const salResidual: Pt[] = [[4,37.372],[50,37.34],[92,37.3],[140,37.25],[180,37.215],[220,37.185],[268,37.168],[300,37.168],[331,37.175],[356,37.185]];

interface Panel {
  label: string;
  data: Pt[];
  ticks: number[];
  smooth?: boolean;
  gap?: number;
}

const chfSeries = [chfImf1, chfImf2, chfImf3, chfImf4, chfImf5, chfImf6, chfImf7, chfImf8, chfImf9, chfImf10, chfImf11, chfResidual];
const chfTicks = [TICKS_05, TICKS_1, TICKS_05, TICKS_05, TICKS_1, TICKS_05, TICKS_05, TICKS_05, TICKS_1, TICKS_1, TICKS_1, CHF_RES_TICKS];
const salSeries = [salImf1, salImf2, salImf3, salImf4, salImf5, salImf6, salImf7, salImf8, salImf9, salImf10, salImf11, salResidual];
const salTicks = [TICKS_05, TICKS_05, TICKS_05, TICKS_02, TICKS_02, TICKS_02, TICKS_02, TICKS_02, TICKS_02, TICKS_05, TICKS_02, SAL_RES_TICKS];
const CHF_SMOOTH = [6, 7, 8, 9, 10, 11];
const SAL_SMOOTH = [7, 8, 9, 10, 11];

const chfPanels: Panel[] = chfSeries.map((data, i) => ({
  label: CHF_LABELS[i], data, ticks: chfTicks[i], smooth: CHF_SMOOTH.includes(i), gap: i === 11 ? 86 : 96,
}));
const salPanels: Panel[] = salSeries.map((data, i) => ({
  label: SAL_LABELS[i], data, ticks: salTicks[i], smooth: SAL_SMOOTH.includes(i), gap: i === 11 ? 108 : 100,
}));

const FIGS = [
  { title: 'EMD ChF', titleX: 745, titleY: 73, cols: [185, 862], top: 92, pitch: 164.2, w: 486, h: 80, tickRight: 18, labelDy: 52, panels: chfPanels },
  { title: 'EMD Salinity', titleX: 2218, titleY: 63, cols: [1653, 2345], top: 80, pitch: 167.8, w: 489, h: 82, tickRight: 17, labelDy: 48, panels: salPanels },
];

const FONT = '"Liberation Sans", Arial, Helvetica, sans-serif';
const INK = '#262626';
const BLUE = '#0072BD';
const PAD_L = 130;
const PAD_T = 30;
const PAD_R = 12;
const PAD_B = 70;

function SubPlot({ panel, left, top, w, h, tickRight, labelDy }: { panel: Panel; left: number; top: number; w: number; h: number; tickRight: number; labelDy: number }) {
  const data = panel.data.map(([d, v]) => ({ d, v }));
  const y0 = panel.ticks[0];
  const y1 = panel.ticks[panel.ticks.length - 1];

  const xTick = (p: any) => {
    const { x, y, payload } = p;
    const i = TICK_DAYS.indexOf(payload.value);
    return (
      <g>
        <line x1={x} x2={x} y1={y} y2={y - 8} stroke={INK} strokeWidth={1.5} />
        <line x1={x} x2={x} y1={y - h} y2={y - h + 8} stroke={INK} strokeWidth={1.5} />
        <text x={x} y={y + labelDy} textAnchor="middle" fontSize={34} fill={INK} fontFamily={FONT}>
          {TICK_LABELS[i]}
        </text>
      </g>
    );
  };

  const yTick = (p: any) => {
    const { x, y, payload } = p;
    return (
      <g>
        <line x1={x} x2={x + 8} y1={y} y2={y} stroke={INK} strokeWidth={1.5} />
        <line x1={x + w - 8} x2={x + w} y1={y} y2={y} stroke={INK} strokeWidth={1.5} />
        <text x={x - tickRight} y={y + 12} textAnchor="end" fontSize={34} fill={INK} fontFamily={FONT}>
          {String(payload.value)}
        </text>
      </g>
    );
  };

  return (
    <div style={{ position: 'absolute', left: left - PAD_L, top: top - PAD_T }}>
      <LineChart
        width={PAD_L + w + PAD_R}
        height={PAD_T + h + PAD_B}
        data={data}
        margin={{ top: PAD_T, right: PAD_R, bottom: 0, left: 0 }}
        style={{ overflow: 'visible' }}
      >
        <XAxis
          dataKey="d"
          type="number"
          domain={X_DOMAIN}
          ticks={TICK_DAYS}
          interval={0}
          height={PAD_B}
          axisLine={false}
          tickLine={false}
          tickSize={0}
          tickMargin={0}
          tick={xTick}
          allowDataOverflow
        />
        <YAxis
          type="number"
          domain={[y0, y1]}
          ticks={panel.ticks}
          interval={0}
          width={PAD_L}
          axisLine={false}
          tickLine={false}
          tickSize={0}
          tickMargin={0}
          tick={yTick}
          allowDataOverflow
        />
        <ReferenceArea x1={X_DOMAIN[0]} x2={X_DOMAIN[1]} y1={y0} y2={y1} fill="none" fillOpacity={0} stroke={INK} strokeWidth={2} ifOverflow="visible" />
        <Line
          dataKey="v"
          type={panel.smooth ? 'monotone' : 'linear'}
          stroke={BLUE}
          strokeWidth={2}
          dot={false}
          activeDot={false}
          isAnimationActive={false}
        />
      </LineChart>
    </div>
  );
}

export default function App() {
  return (
    <div style={{ position: 'absolute', left: 0, top: 0, width: 2802, height: 1057, background: '#fff', overflow: 'hidden', fontFamily: FONT }}>
      {FIGS.map((fig) =>
        fig.panels.map((p, i) => (
          <SubPlot
            key={fig.title + i}
            panel={p}
            left={fig.cols[i < 6 ? 0 : 1]}
            top={fig.top + fig.pitch * (i % 6)}
            w={fig.w}
            h={fig.h}
            tickRight={fig.tickRight}
            labelDy={fig.labelDy}
          />
        ))
      )}
      <svg width={2802} height={1057} style={{ position: 'absolute', left: 0, top: 0, pointerEvents: 'none' }}>
        {FIGS.map((fig) => (
          <g key={fig.title}>
            <text x={fig.titleX} y={fig.titleY} textAnchor="middle" fontSize={40} fontWeight="bold" fill="#000" fontFamily={FONT}>
              {fig.title}
            </text>
            {fig.panels.map((p, i) => {
              const bx = fig.cols[i < 6 ? 0 : 1] - (p.gap || 96);
              const cy = fig.top + fig.pitch * (i % 6) + fig.h / 2;
              return (
                <text key={p.label} x={bx} y={cy} transform={`rotate(-90 ${bx} ${cy})`} textAnchor="middle" fontSize={36} fill={INK} fontFamily={FONT}>
                  {p.label}
                </text>
              );
            })}
          </g>
        ))}
        <ellipse cx={1114} cy={133} rx={65.5} ry={61.5} fill="none" stroke="#C0504D" strokeWidth={9} />
        <ellipse cx={2607} cy={119.5} rx={70.5} ry={60} fill="none" stroke="#C0504D" strokeWidth={9} />
        <ellipse cx={1713} cy={-51} rx={65.5} ry={61.5} fill="none" stroke="#C0504D" strokeWidth={9} />
      </svg>
    </div>
  );
}
